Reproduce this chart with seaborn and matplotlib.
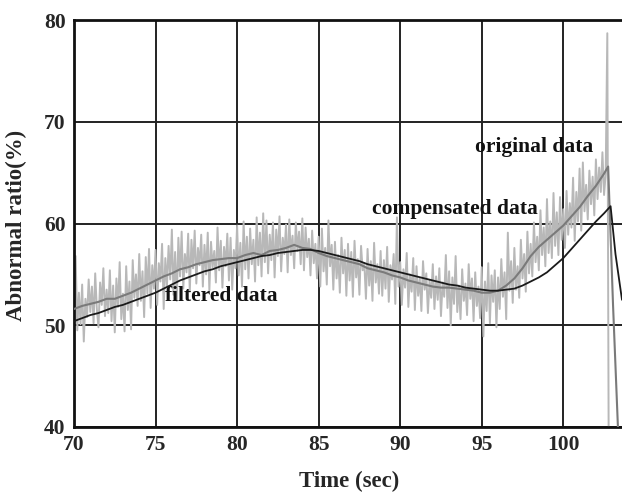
import numpy as np
import pandas as pd
import matplotlib
matplotlib.use("Agg")
import matplotlib.pyplot as plt
import seaborn as sns

# ---------------- data ----------------
orig_t_start = 70.0
orig_vals = [
    51.0, 56.8, 49.5, 53.2, 50.1, 54.0, 48.4, 52.6, 50.8, 54.5,
    51.3, 53.8, 50.2, 55.1, 51.6, 49.8, 54.2, 52.0, 55.6, 50.9,
    53.5, 51.2, 55.4, 50.4, 53.9, 49.3, 54.6, 51.8, 56.2, 50.6,
    53.1, 49.4, 55.8, 51.5, 54.3, 49.6, 56.4, 52.7, 55.0, 51.9,
    57.0, 52.4, 55.3, 50.8, 56.7, 53.1, 57.5, 51.7, 55.9, 53.6,
    57.4, 52.0, 56.1, 54.3, 58.0, 51.6, 56.6, 53.9, 57.8, 54.5,
    59.4, 53.0, 57.2, 52.4, 58.6, 54.8, 59.2, 53.6, 57.0, 55.2,
    59.0, 53.3, 58.4, 55.6, 59.3, 54.1, 57.6, 55.9, 58.9, 53.8,
    57.9, 55.0, 59.1, 53.4, 58.2, 55.7, 57.3, 54.2, 59.6, 55.4,
    58.3, 53.7, 57.7, 55.8, 59.0, 54.4, 58.6, 53.5, 57.4, 55.6,
    59.8, 54.9, 58.1, 53.8, 60.2, 55.5, 58.7, 54.6, 59.5, 56.0,
    58.4, 54.3, 60.6, 55.9, 59.1, 54.8, 61.0, 56.2, 60.3, 55.1,
    58.9, 56.4, 60.1, 54.7, 59.4, 56.8, 60.7, 55.3, 58.6, 57.0,
    59.9, 55.2, 60.4, 56.9, 58.8, 55.6, 60.1, 57.3, 59.2, 56.0,
    60.5, 55.4, 59.6, 56.7, 58.5, 54.9, 59.3, 56.1, 58.0, 54.6,
    58.7, 53.8, 59.5, 55.3, 57.6, 54.0, 60.3, 55.8, 57.9, 53.5,
    58.2, 54.6, 56.9, 53.2, 58.6, 55.1, 57.4, 52.9, 58.0, 54.4,
    57.2, 52.8, 58.3, 54.7, 56.5, 53.0, 57.8, 55.4, 56.1, 52.6,
    57.5, 53.9, 56.3, 52.4, 58.1, 54.2, 56.0, 53.1, 57.3, 52.9,
    56.4, 53.6, 57.7, 52.3, 55.9, 54.5, 57.0, 52.1, 60.6, 53.8,
    56.2, 52.0, 55.5, 53.7, 57.1, 51.8, 55.0, 53.3, 56.6, 51.5,
    55.8, 52.9, 54.6, 51.4, 56.3, 53.5, 55.1, 51.2, 54.4, 52.7,
    56.0, 51.6, 54.8, 52.5, 55.6, 50.9, 54.2, 52.8, 56.9, 51.7,
    55.3, 50.0, 54.7, 52.1, 56.8, 51.3, 53.9, 50.6, 55.5, 52.4,
    54.1, 51.0, 56.0, 52.6, 54.6, 50.4, 55.2, 51.9, 53.8, 50.7,
    55.7, 48.9, 54.3, 51.4, 56.1, 50.2, 54.9, 52.3, 55.4, 49.8,
    54.7, 51.6, 56.5, 52.8, 55.2, 50.6, 59.1, 53.4, 56.3, 52.2,
    57.6, 53.5, 55.8, 52.7, 58.4, 54.6, 57.0, 53.3, 59.2, 55.1,
    58.0, 54.8, 60.1, 56.2, 58.7, 55.4, 61.3, 56.9, 59.6, 55.8,
    62.4, 57.1, 60.2, 56.6, 63.0, 57.8, 61.1, 56.9, 62.6, 58.4,
    61.4, 57.6, 63.2, 58.9, 62.0, 59.6, 64.5, 58.3, 63.1, 60.2,
    65.4, 59.3, 66.0, 61.2, 63.8, 60.4, 65.2, 61.9, 64.6, 60.8,
    66.3, 62.4, 65.5, 63.1, 67.0, 62.8, 64.9, 78.7,
    30.0,
]
orig_time = np.round(orig_t_start + 0.1 * np.arange(len(orig_vals)), 2)

comp_time = [70.0, 70.5, 71.0, 71.5, 72.0, 72.5, 73.0, 73.5, 74.0, 74.5,
             75.0, 75.5, 76.0, 76.5, 77.0, 77.5, 78.0, 78.5, 79.0, 79.5,
             80.0, 80.5, 81.0, 81.5, 82.0, 82.5, 83.0, 83.5, 84.0, 84.5,
             85.0, 85.5, 86.0, 86.5, 87.0, 87.5, 88.0, 88.5, 89.0, 89.5,
             90.0, 90.5, 91.0, 91.5, 92.0, 92.5, 93.0, 93.5, 94.0, 94.5,
             95.0, 95.5, 96.0, 96.5, 97.0, 97.5, 98.0, 98.5, 99.0, 99.5,
             100.0, 100.5, 101.0, 101.5, 102.0, 102.5, 102.75, 103.05, 103.4]
comp_vals = [51.6, 51.9, 52.1, 52.3, 52.6, 52.6, 52.9, 53.2, 53.6, 54.0,
             54.4, 54.8, 55.1, 55.5, 55.7, 56.0, 56.2, 56.4, 56.5, 56.6,
             56.6, 56.9, 57.1, 56.9, 57.3, 57.4, 57.6, 57.9, 57.6, 57.5,
             57.1, 56.8, 56.6, 56.4, 56.2, 56.0, 55.6, 55.4, 55.2, 54.9,
             54.7, 54.4, 54.2, 54.0, 53.8, 53.7, 53.7, 53.6, 53.5, 53.4,
             53.2, 53.2, 53.4, 53.9, 54.6, 55.6, 56.8, 57.7, 58.4, 59.1,
             59.8, 60.7, 61.6, 62.7, 63.7, 64.9, 65.6, 52.0, 38.0]

filt_time = [70.0, 70.5, 71.0, 71.5, 72.0, 72.5, 73.0, 73.5, 74.0, 74.5,
             75.0, 75.5, 76.0, 76.5, 77.0, 77.5, 78.0, 78.5, 79.0, 79.5,
             80.0, 80.5, 81.0, 81.5, 82.0, 82.5, 83.0, 83.5, 84.0, 84.5,
             85.0, 85.5, 86.0, 86.5, 87.0, 87.5, 88.0, 88.5, 89.0, 89.5,
             90.0, 90.5, 91.0, 91.5, 92.0, 92.5, 93.0, 93.5, 94.0, 94.5,
             95.0, 95.5, 96.0, 96.5, 97.0, 97.5, 98.0, 98.5, 99.0, 99.5,
             100.0, 100.5, 101.0, 101.5, 102.0, 102.5, 102.9, 103.2, 103.6]
filt_vals = [50.4, 50.7, 51.0, 51.2, 51.5, 51.8, 52.0, 52.3, 52.6, 52.9,
             53.2, 53.6, 54.0, 54.4, 54.7, 55.0, 55.3, 55.5, 55.8, 56.0,
             56.2, 56.4, 56.6, 56.8, 56.9, 57.1, 57.2, 57.3, 57.4, 57.4,
             57.3, 57.1, 56.9, 56.7, 56.5, 56.3, 56.0, 55.8, 55.6, 55.4,
             55.2, 55.0, 54.8, 54.6, 54.4, 54.2, 54.0, 53.9, 53.7, 53.6,
             53.5, 53.4, 53.4, 53.5, 53.6, 53.9, 54.3, 54.7, 55.2, 55.9,
             56.6, 57.5, 58.4, 59.3, 60.2, 61.0, 61.7, 57.0, 52.5]

x_ticks = [70, 75, 80, 85, 90, 95, 100]
y_ticks = [40, 50, 60, 70, 80]

labels = ["original data", "compensated data", "filtered data"]
label_pos = [(94.6, 67.5), (88.3, 61.4), (75.6, 52.9)]

# ---------------- plotting ----------------
sns.set_style("white")
plt.rcParams['font.family'] = ['Liberation Serif', 'DejaVu Serif']
plt.rcParams['font.weight'] = 'bold'

fig = plt.figure(figsize=(6.22, 4.92), dpi=100)
ax = fig.add_axes([74/622, 65/492, 548/622, 407/492])

df_o = pd.DataFrame({"t": orig_time, "v": orig_vals})
df_c = pd.DataFrame({"t": comp_time, "v": comp_vals})
df_f = pd.DataFrame({"t": filt_time, "v": filt_vals})

sns.lineplot(data=df_o, x="t", y="v", ax=ax, color="#b8b8b8", lw=1.4,
             sort=False, estimator=None, zorder=2)
sns.lineplot(data=df_c, x="t", y="v", ax=ax, color="#7a7a7a", lw=1.5,
             sort=False, estimator=None, zorder=3)
sns.lineplot(data=df_f, x="t", y="v", ax=ax, color="#1a1a1a", lw=1.3,
             sort=False, estimator=None, zorder=4)

ax.set_xlim(70, 103.6)
ax.set_ylim(40, 80)
ax.set_xticks(x_ticks)
ax.set_yticks(y_ticks)
ax.set_xticklabels([str(v) for v in x_ticks], fontsize=15.5, fontweight='bold')
ax.set_yticklabels([str(v) for v in y_ticks], fontsize=15.5, fontweight='bold')
ax.tick_params(length=0, pad=6)

ax.grid(True, color="#222222", lw=1.4)
ax.set_axisbelow(True)
for s in ["left", "bottom", "top"]:
    ax.spines[s].set_color("#111111")
    ax.spines[s].set_linewidth(2)
ax.spines["right"].set_visible(False)

ax.set_xlabel("Time (sec)", fontsize=16.5, fontweight='bold')
ax.set_ylabel("Abnormal ratio(%)", fontsize=16.5, fontweight='bold')
ax.xaxis.label.set_va('center')
ax.yaxis.label.set_va('center')
ax.xaxis.set_label_coords((349 - 74) / 548, (427 - 481) / 407)
ax.yaxis.set_label_coords((16 - 74) / 548, (427 - 225) / 407)

for txt, (x, y) in zip(labels, label_pos):
    ax.text(x, y, txt, fontsize=15.5, fontweight='bold', ha='left', va='center',
            color="#111111", zorder=5)

fig.savefig("out.png", dpi=100)
